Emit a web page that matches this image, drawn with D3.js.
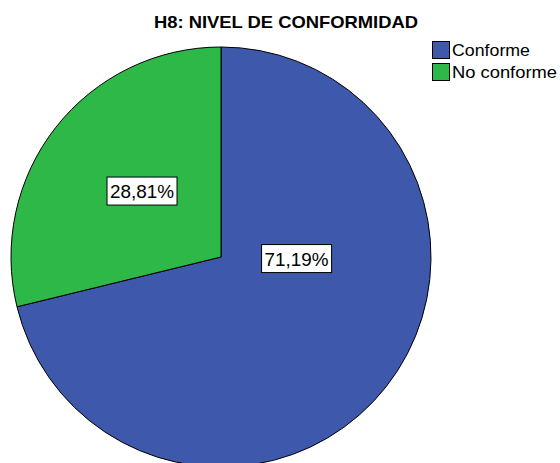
<!DOCTYPE html>
<html><head><meta charset="utf-8">
<script src="https://cdn.jsdelivr.net/npm/d3@7"></script>
<style>body{margin:0;background:#fff}svg{display:block}</style>
</head><body>
<script>
const categories = ["Conforme", "No conforme"];
const values = [71.19, 28.81];
const colors = ["#3E58AC", "#2EB848"];
const title = "H8: NIVEL DE CONFORMIDAD";

const W = 560, H = 463;
const cx = 221, cy = 257, R = 210;
const FONT = "Arial, 'Liberation Sans', sans-serif";
const svg = d3.select("body").append("svg").attr("width", W).attr("height", H);

const data = categories.map((c, i) => ({cat: c, value: values[i], color: colors[i]}));
const pie = d3.pie().value(d => d.value).sort(null);
const arcs = pie(data);
const arc = d3.arc().innerRadius(0).outerRadius(R);

const g = svg.append("g").attr("transform", `translate(${cx},${cy})`);
g.selectAll("path").data(arcs).join("path")
  .attr("d", arc)
  .attr("fill", d => d.data.color)
  .attr("stroke", "#000").attr("stroke-width", 1);

const labelRadius = [0.36, 0.49];
const labelAngleShift = [-0.645, 0.03];
const fmt = v => v.toFixed(2).replace(".", ",") + "%";
arcs.forEach((a, i) => {
  const mid = (a.startAngle + a.endAngle) / 2 + labelAngleShift[i];
  const r = R * labelRadius[i];
  const x = Math.sin(mid) * r, y = -Math.cos(mid) * r;
  const lg = g.append("g").attr("transform", `translate(${x},${y})`);
  lg.append("rect")
    .attr("x", -35).attr("y", -14)
    .attr("width", 70).attr("height", 28)
    .attr("fill", "#fff").attr("stroke", "#000").attr("stroke-width", 1);
  lg.append("text").text(fmt(a.data.value))
    .attr("font-family", FONT)
    .attr("font-size", 18.5).attr("text-anchor", "middle")
    .attr("y", 7)
    .attr("textLength", 64).attr("lengthAdjust", "spacingAndGlyphs")
    .attr("fill", "#000");
});

svg.append("text").text(title)
  .attr("x", 286).attr("y", 28)
  .attr("text-anchor", "middle")
  .attr("font-family", FONT)
  .attr("textLength", 264).attr("lengthAdjust", "spacingAndGlyphs")
  .attr("font-weight", "bold").attr("font-size", 17).attr("fill", "#000");

const legLen = [78, 105];
const leg = svg.append("g").attr("transform", "translate(432,41)");
data.forEach((d, i) => {
  const row = leg.append("g").attr("transform", `translate(0,${i * 22})`);
  row.append("rect").attr("x", 0.5).attr("y", 0.5).attr("width", 17).attr("height", 17)
    .attr("fill", d.color).attr("stroke", "#000").attr("stroke-width", 1);
  row.append("text").text(d.cat).attr("x", 20).attr("y", 15)
    .attr("font-family", FONT)
    .attr("textLength", legLen[i]).attr("lengthAdjust", "spacingAndGlyphs")
    .attr("font-size", 17).attr("fill", "#000");
});
</script>
</body></html>
